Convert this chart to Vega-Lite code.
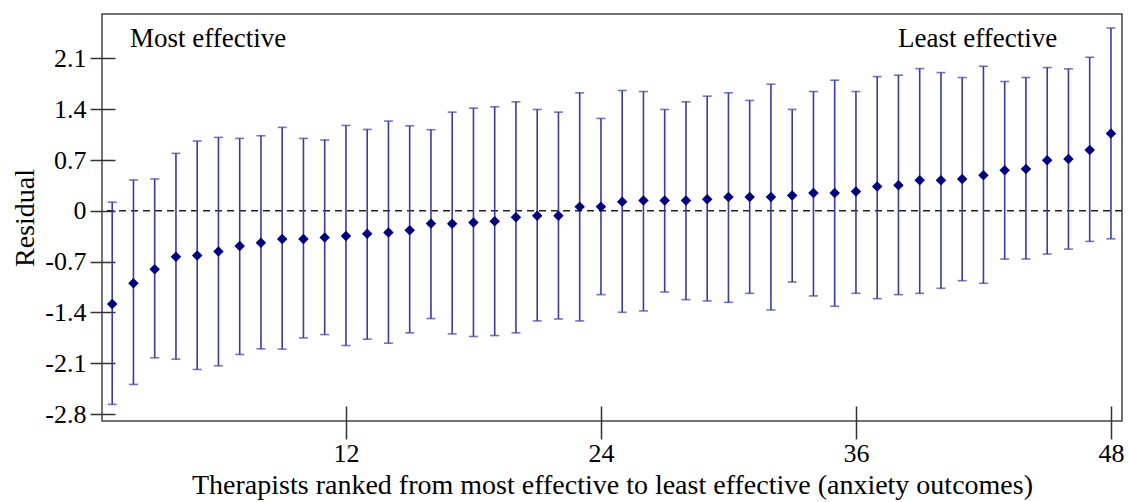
{
  "$schema": "https://vega.github.io/schema/vega-lite/v6.json",
  "width": 1020,
  "height": 407,
  "autosize": {"type": "none"},
  "padding": {"left": 102, "top": 14, "right": 7, "bottom": 81},
  "background": "white",
  "config": {
    "view": {"stroke": "#444", "strokeWidth": 1.5},
    "font": "Liberation Serif"
  },
  "datasets": {
    "ranks": [
      {"rank": 1, "mean": -1.282, "lower": -2.666, "upper": 0.119},
      {"rank": 2, "mean": -0.998, "lower": -2.391, "upper": 0.426},
      {"rank": 3, "mean": -0.806, "lower": -2.024, "upper": 0.44},
      {"rank": 4, "mean": -0.632, "lower": -2.043, "upper": 0.792},
      {"rank": 5, "mean": -0.614, "lower": -2.185, "upper": 0.962},
      {"rank": 6, "mean": -0.559, "lower": -2.134, "upper": 1.012},
      {"rank": 7, "mean": -0.485, "lower": -1.979, "upper": 0.998},
      {"rank": 8, "mean": -0.44, "lower": -1.901, "upper": 1.035},
      {"rank": 9, "mean": -0.389, "lower": -1.905, "upper": 1.15},
      {"rank": 10, "mean": -0.389, "lower": -1.75, "upper": 0.998},
      {"rank": 11, "mean": -0.366, "lower": -1.704, "upper": 0.976},
      {"rank": 12, "mean": -0.348, "lower": -1.855, "upper": 1.177},
      {"rank": 13, "mean": -0.316, "lower": -1.768, "upper": 1.122},
      {"rank": 14, "mean": -0.298, "lower": -1.823, "upper": 1.237},
      {"rank": 15, "mean": -0.266, "lower": -1.681, "upper": 1.172},
      {"rank": 16, "mean": -0.174, "lower": -1.484, "upper": 1.118},
      {"rank": 17, "mean": -0.179, "lower": -1.695, "upper": 1.36},
      {"rank": 18, "mean": -0.16, "lower": -1.731, "upper": 1.415},
      {"rank": 19, "mean": -0.142, "lower": -1.718, "upper": 1.434},
      {"rank": 20, "mean": -0.087, "lower": -1.681, "upper": 1.502},
      {"rank": 21, "mean": -0.069, "lower": -1.516, "upper": 1.397},
      {"rank": 22, "mean": -0.069, "lower": -1.489, "upper": 1.36},
      {"rank": 23, "mean": 0.055, "lower": -1.516, "upper": 1.626},
      {"rank": 24, "mean": 0.055, "lower": -1.154, "upper": 1.273},
      {"rank": 25, "mean": 0.124, "lower": -1.397, "upper": 1.658},
      {"rank": 26, "mean": 0.142, "lower": -1.379, "upper": 1.644},
      {"rank": 27, "mean": 0.142, "lower": -1.118, "upper": 1.397},
      {"rank": 28, "mean": 0.142, "lower": -1.223, "upper": 1.502},
      {"rank": 29, "mean": 0.16, "lower": -1.241, "upper": 1.58},
      {"rank": 30, "mean": 0.192, "lower": -1.26, "upper": 1.626},
      {"rank": 31, "mean": 0.192, "lower": -1.136, "upper": 1.521},
      {"rank": 32, "mean": 0.192, "lower": -1.365, "upper": 1.745},
      {"rank": 33, "mean": 0.211, "lower": -0.98, "upper": 1.397},
      {"rank": 34, "mean": 0.247, "lower": -1.172, "upper": 1.644},
      {"rank": 35, "mean": 0.247, "lower": -1.314, "upper": 1.8},
      {"rank": 36, "mean": 0.266, "lower": -1.136, "upper": 1.644},
      {"rank": 37, "mean": 0.334, "lower": -1.209, "upper": 1.85},
      {"rank": 38, "mean": 0.353, "lower": -1.154, "upper": 1.869},
      {"rank": 39, "mean": 0.421, "lower": -1.136, "upper": 1.96},
      {"rank": 40, "mean": 0.421, "lower": -1.067, "upper": 1.905},
      {"rank": 41, "mean": 0.44, "lower": -0.962, "upper": 1.837},
      {"rank": 42, "mean": 0.49, "lower": -0.998, "upper": 1.992},
      {"rank": 43, "mean": 0.559, "lower": -0.664, "upper": 1.782},
      {"rank": 44, "mean": 0.577, "lower": -0.664, "upper": 1.837},
      {"rank": 45, "mean": 0.696, "lower": -0.595, "upper": 1.974},
      {"rank": 46, "mean": 0.714, "lower": -0.527, "upper": 1.956},
      {"rank": 47, "mean": 0.838, "lower": -0.421, "upper": 2.116},
      {"rank": 48, "mean": 1.067, "lower": -0.385, "upper": 2.519}
    ]
  },
  "encoding": {
    "x": {
      "field": "rank",
      "type": "quantitative",
      "scale": {"domain": [0.52, 48.52], "nice": false, "zero": false},
      "axis": {
        "title": "Therapists ranked from most effective to least effective (anxiety outcomes)",
        "values": [12, 24, 36, 48],
        "grid": false,
        "domain": false,
        "offset": -15,
        "tickSize": 33,
        "tickColor": "#333",
        "tickWidth": 1.5,
        "labelFont": "Liberation Serif",
        "labelFontSize": 26,
        "labelColor": "#000",
        "labelPadding": 1,
        "titleFont": "Liberation Serif",
        "titleFontSize": 28,
        "titleFontWeight": "normal",
        "titleColor": "#000",
        "titlePadding": 5
      }
    }
  },
  "layer": [
    {
      "data": {"values": [{"ref": 0}]},
      "mark": {"type": "rule", "color": "#222", "strokeWidth": 1.5, "strokeDash": [7, 5]},
      "encoding": {
        "x": null,
        "y": {
          "field": "ref",
          "type": "quantitative",
          "scale": {"domain": [-2.895, 2.712], "nice": false, "zero": false},
          "axis": {
            "title": "Residual",
            "values": [-2.8, -2.1, -1.4, -0.7, 0, 0.7, 1.4, 2.1],
            "labelExpr": "'' + datum.value",
            "grid": false,
            "domain": false,
            "offset": -13,
            "tickSize": 25,
            "tickColor": "#333",
            "tickWidth": 1.5,
            "labelFont": "Liberation Serif",
            "labelFontSize": 26,
            "labelColor": "#000",
            "labelPadding": 4,
            "titleFont": "Liberation Serif",
            "titleFontSize": 28,
            "titleFontWeight": "normal",
            "titleColor": "#000",
            "titlePadding": 5
          }
        }
      }
    },
    {
      "data": {"name": "ranks"},
      "mark": {"type": "rule", "color": "#3a3aa8", "strokeWidth": 1.6},
      "encoding": {
        "y": {"field": "lower", "type": "quantitative"},
        "y2": {"field": "upper"}
      }
    },
    {
      "data": {"name": "ranks"},
      "mark": {"type": "tick", "orient": "horizontal", "color": "#3a3aa8", "size": 9, "thickness": 1.6},
      "encoding": {
        "y": {"field": "lower", "type": "quantitative"}
      }
    },
    {
      "data": {"name": "ranks"},
      "mark": {"type": "tick", "orient": "horizontal", "color": "#3a3aa8", "size": 9, "thickness": 1.6},
      "encoding": {
        "y": {"field": "upper", "type": "quantitative"}
      }
    },
    {
      "data": {"name": "ranks"},
      "mark": {"type": "point", "shape": "diamond", "filled": true, "color": "#000080", "size": 110, "opacity": 1},
      "encoding": {
        "y": {"field": "mean", "type": "quantitative"}
      }
    },
    {
      "data": {"values": [{"pos": 1.835, "val": 2.259, "label": "Most effective"}]},
      "mark": {"type": "text", "align": "left", "baseline": "alphabetic", "font": "Liberation Serif", "fontSize": 27, "color": "#000"},
      "encoding": {
        "x": {"field": "pos", "type": "quantitative"},
        "y": {"field": "val", "type": "quantitative"},
        "text": {"field": "label"}
      }
    },
    {
      "data": {"values": [{"pos": 45.47, "val": 2.259, "label": "Least effective"}]},
      "mark": {"type": "text", "align": "right", "baseline": "alphabetic", "font": "Liberation Serif", "fontSize": 27, "color": "#000"},
      "encoding": {
        "x": {"field": "pos", "type": "quantitative"},
        "y": {"field": "val", "type": "quantitative"},
        "text": {"field": "label"}
      }
    }
  ]
}
